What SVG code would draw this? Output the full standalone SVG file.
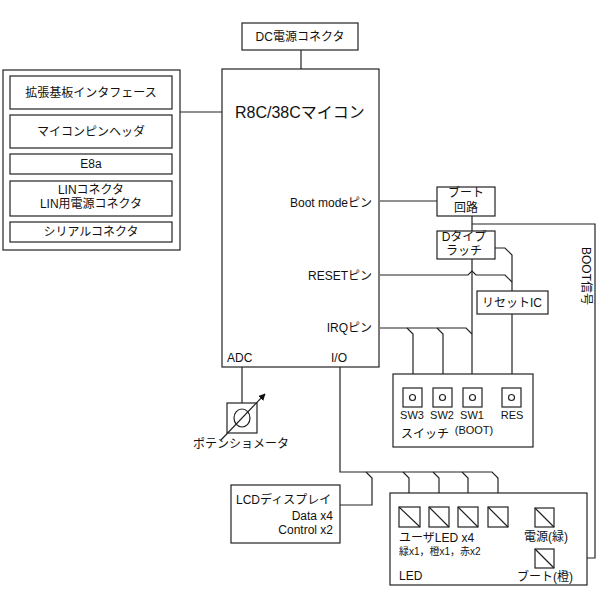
<svg xmlns="http://www.w3.org/2000/svg" width="600" height="600" viewBox="0 0 600 600">
<defs>
<style>
.b{fill:#fff;stroke:#222;stroke-width:1.2}
.w{fill:none;stroke:#222;stroke-width:1.2}
text{font-family:"Liberation Sans","Noto Sans CJK JP",sans-serif;font-size:12px;fill:#111}
.c{text-anchor:middle}
.e{text-anchor:end}
.s{font-size:10px}
.t{font-size:16px}
.sw{font-size:11px}
</style>
<marker id="ah" viewBox="0 0 10 10" refX="9" refY="5" markerWidth="7" markerHeight="7" orient="auto" markerUnits="userSpaceOnUse">
<path d="M0,0 L10,5 L0,10 z" fill="#111"/>
</marker>
</defs>
<rect width="600" height="600" fill="#fff"/>

<g id="connectors" class="w">
<path class="w" d="M301 50 V69"/>
<path class="w" d="M180 112 H222"/>
<path class="w" d="M380 201 H437"/>
<path class="w" d="M472 216 V231"/>
<path class="w" d="M472 224 H595 V558 H554"/>
<path class="w" d="M472 259 V388"/>
<path class="w" d="M495 248 H505 L512 255 V291"/>
<path class="w" d="M380 275 H468 L472 271 L476 275 H505 L512 282"/>
<path class="w" d="M512 314 V388"/>
<path class="w" d="M380 328 H466 L472 334"/>
<path class="w" d="M407 328 L413 334 V388"/>
<path class="w" d="M437 328 L443 334 V388"/>
<path class="w" d="M242 367 V403"/>
<path class="w" d="M340 367 V472 H492 L498 478 V507"/>
<path class="w" d="M366 472 L372 478 V505 H340"/>
<path class="w" d="M403 472 L409 478 V507"/>
<path class="w" d="M433 472 L439 478 V507"/>
<path class="w" d="M462 472 L468 478 V507"/>
</g>

<g id="dc">
<rect class="b" x="242" y="23" width="116" height="27"/>
<text class="c" x="300" y="41">DC電源コネクタ</text>
</g>

<g id="ifpanel">
<rect class="b" x="3" y="70" width="177" height="180"/>
<rect class="b" x="10" y="76" width="162" height="33"/>
<text class="c" x="91" y="97">拡張基板インタフェース</text>
<rect class="b" x="10" y="115" width="162" height="33"/>
<text class="c" x="91" y="136">マイコンピンヘッダ</text>
<rect class="b" x="10" y="154" width="162" height="20"/>
<text class="c" x="91" y="168">E8a</text>
<rect class="b" x="10" y="181" width="162" height="35"/>
<text class="c" x="91" y="194">LINコネクタ</text>
<text class="c" x="91" y="208">LIN用電源コネクタ</text>
<rect class="b" x="10" y="222" width="162" height="20"/>
<text class="c" x="91" y="236">シリアルコネクタ</text>
</g>

<g id="mcu">
<rect class="b" x="222" y="69" width="157" height="298"/>
<text class="t" x="235" y="118">R8C/38Cマイコン</text>
<text class="e" x="372" y="207">Boot modeピン</text>
<text class="e" x="372" y="280">RESETピン</text>
<text class="e" x="372" y="332">IRQピン</text>
<text x="227" y="362">ADC</text>
<text x="331" y="362">I/O</text>
</g>

<g id="bootckt">
<rect class="b" x="437" y="187" width="58" height="29"/>
<text class="c" x="466" y="197">ブート</text>
<text class="c" x="466" y="212">回路</text>
</g>

<g id="latch">
<rect class="b" x="437" y="231" width="58" height="28"/>
<text class="c" x="464" y="241">Dタイプ</text>
<text class="c" x="464" y="255">ラッチ</text>
</g>

<g id="resetic">
<rect class="b" x="477" y="291" width="71" height="23"/>
<text class="c" x="512" y="307">リセットIC</text>
</g>

<g id="bootsig">
<text transform="translate(582,247) rotate(90)">BOOT信号</text>
</g>

<g id="switches">
<rect class="b" x="393" y="374" width="140" height="73"/>
<rect class="b" x="403" y="388" width="19" height="19"/>
<circle class="w" cx="412.5" cy="397.5" r="3"/>
<rect class="b" x="433" y="388" width="19" height="19"/>
<circle class="w" cx="442.5" cy="397.5" r="3"/>
<rect class="b" x="463" y="388" width="19" height="19"/>
<circle class="w" cx="472.5" cy="397.5" r="3"/>
<rect class="b" x="502" y="388" width="19" height="19"/>
<circle class="w" cx="511.5" cy="397.5" r="3"/>
<text class="c sw" x="412" y="419">SW3</text>
<text class="c sw" x="442" y="419">SW2</text>
<text class="c sw" x="472" y="419">SW1</text>
<text class="c sw" x="512" y="419">RES</text>
<text class="c sw" x="474" y="434">(BOOT)</text>
<text x="401" y="438">スイッチ</text>
</g>

<g id="pot">
<rect class="b" x="227" y="403" width="30" height="30"/>
<ellipse class="w" cx="242" cy="418" rx="8" ry="9"/>
<line class="w" x1="221" y1="440" x2="265" y2="394" marker-end="url(#ah)"/>
<text class="c" x="241" y="448">ポテンショメータ</text>
</g>

<g id="lcd">
<rect class="b" x="231" y="485" width="109" height="58"/>
<text x="236" y="504">LCDディスプレイ</text>
<text class="e" x="333" y="520">Data x4</text>
<text class="e" x="333" y="534">Control x2</text>
</g>

<g id="leds">
<rect class="b" x="390" y="493" width="197" height="92"/>
<rect class="b" x="399" y="507" width="21" height="20"/>
<line class="w" x1="399" y1="507" x2="420" y2="527"/>
<rect class="b" x="429" y="507" width="20" height="20"/>
<line class="w" x1="429" y1="507" x2="449" y2="527"/>
<rect class="b" x="458" y="507" width="20" height="20"/>
<line class="w" x1="458" y1="507" x2="478" y2="527"/>
<rect class="b" x="488" y="507" width="20" height="20"/>
<line class="w" x1="488" y1="507" x2="508" y2="527"/>
<rect class="b" x="535" y="508" width="19" height="19"/>
<line class="w" x1="535" y1="508" x2="554" y2="527"/>
<rect class="b" x="535" y="549" width="19" height="19"/>
<line class="w" x1="535" y1="549" x2="554" y2="568"/>
<text x="399" y="542">ユーザLED x4</text>
<text class="s" x="399" y="555">緑x1，橙x1，赤x2</text>
<text x="399" y="580">LED</text>
<text class="c" x="546" y="541">電源(緑)</text>
<text class="c" x="545" y="581">ブート(橙)</text>
</g>
</svg>
